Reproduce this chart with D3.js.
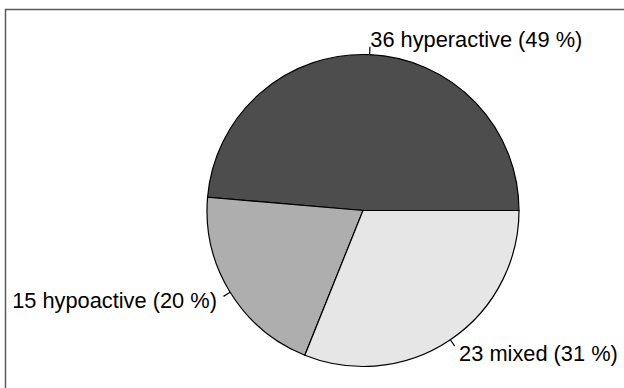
<!DOCTYPE html>
<html><head><meta charset="utf-8">
<script src="https://cdn.jsdelivr.net/npm/d3@7"></script>
<style>html,body{margin:0;padding:0;background:#fff;}svg{display:block;}</style>
</head><body>
<script>
const categories = ["hyperactive", "hypoactive", "mixed"];
const values = [36, 15, 23];
const labels = ["36 hyperactive (49 %)", "15 hypoactive (20 %)", "23 mixed (31 %)"];
const colors = ["#4D4D4D", "#AEAEAE", "#E6E6E6"];

const W = 624, H = 388;
const cx = 363, cy = 210.5, r = 156;
const svg = d3.select("body").append("svg").attr("width", W).attr("height", H);

svg.append("rect").attr("x", 5.5).attr("y", 9.5).attr("width", 700).attr("height", 500)
  .attr("fill", "none").attr("stroke", "#5a5a5a").attr("stroke-width", 1.5);

const total = d3.sum(values);
const ang = d3.scaleLinear().domain([0, total]).range([0, 2 * Math.PI]);
let cum = 0;
const slices = values.map((v, i) => {
  const s = { i, v, a0: ang(cum), a1: ang(cum + v) };
  cum += v; return s;
});
const arc = d3.arc().innerRadius(0).outerRadius(r);
const g = svg.append("g").attr("transform", `translate(${cx},${cy})`);
g.selectAll("path.slice").data(slices).join("path")
  .attr("d", d => arc({ startAngle: Math.PI / 2 - d.a1, endAngle: Math.PI / 2 - d.a0 }))
  .attr("fill", d => colors[d.i]).attr("stroke", "#000").attr("stroke-width", 1.2);

slices.forEach(d => {
  const t = (d.a0 + d.a1) / 2;
  const c = Math.cos(t), s = Math.sin(t);
  g.append("line").attr("x1", r * c).attr("y1", -r * s)
    .attr("x2", 1.05 * r * c).attr("y2", -1.05 * r * s)
    .attr("stroke", "#000").attr("stroke-width", 1.2);
  g.append("text").attr("x", 1.1 * r * c).attr("y", -1.1 * r * s)
    .attr("dy", "0.36em")
    .attr("text-anchor", c > 0 ? "start" : "end")
    .attr("font-family", "Liberation Sans, Arial, sans-serif")
    .attr("font-size", 21.8).attr("fill", "#000")
    .text(labels[d.i]);
});
</script>
</body></html>
